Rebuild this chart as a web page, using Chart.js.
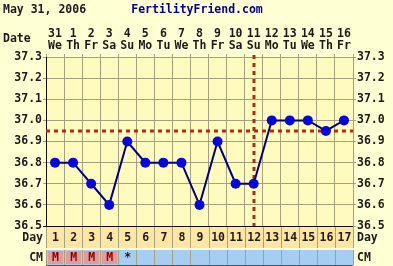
<!DOCTYPE html>
<html>
<head>
<meta charset="utf-8">
<script src="https://cdn.jsdelivr.net/npm/chart.js@4.4.1/dist/chart.umd.min.js"></script>
<style>
html,body{margin:0;padding:0;background:#FFFFD4;}
#wrap{width:393px;height:266px;}
</style>
</head>
<body>
<div id="wrap"><canvas id="c" width="393" height="266"></canvas></div>
<script>
// ---- data ----
const dates = ['31','1','2','3','4','5','6','7','8','9','10','11','12','13','14','15','16'];
const weekdays = ['We','Th','Fr','Sa','Su','Mo','Tu','We','Th','Fr','Sa','Su','Mo','Tu','We','Th','Fr'];
const cycleDays = ['1','2','3','4','5','6','7','8','9','10','11','12','13','14','15','16','17'];
const temps = [36.8,36.8,36.7,36.6,36.9,36.8,36.8,36.8,36.6,36.9,36.7,36.7,37.0,37.0,37.0,36.95,37.0];
const cm = ['M','M','M','M','*','','','','','','','','','','','',''];
const coverline = 36.95;
const ovulationIndex = 11; // cycle day 12
const chartTitleDate = 'May 31, 2006';
const chartTitleSite = 'FertilityFriend.com';

const FONT = 'bold 11.5px "DejaVu Sans Mono", monospace';
const GRID = '#a4a27e';
const TXT = '#1a1a1a';

const extras = {
  id: 'extras',
  beforeDraw(chart) {
    const ctx = chart.ctx, a = chart.chartArea;
    ctx.save();
    ctx.fillStyle = '#FFFFD4';
    ctx.fillRect(0, 0, chart.width, chart.height);
    ctx.fillStyle = '#FFFBBE';
    ctx.fillRect(a.left, a.top, a.right - a.left, a.bottom - a.top);
    ctx.restore();
  },
  beforeDatasetsDraw(chart) {
    const ctx = chart.ctx, a = chart.chartArea, y = chart.scales.y, x = chart.scales.x;
    ctx.save();
    ctx.strokeStyle = '#b02a10';
    ctx.lineWidth = 3;
    ctx.setLineDash([4, 4]);
    const cy = Math.round(y.getPixelForValue(coverline));
    ctx.beginPath(); ctx.moveTo(a.left, cy); ctx.lineTo(a.right, cy); ctx.stroke();
    const vx = Math.round(x.getPixelForValue(ovulationIndex));
    ctx.beginPath(); ctx.moveTo(vx, a.top - 2); ctx.lineTo(vx, a.bottom); ctx.stroke();
    ctx.restore();
  },
  afterDraw(chart) {
    const ctx = chart.ctx, a = chart.chartArea;
    const n = cycleDays.length, w = (a.right - a.left) / n;
    ctx.save();
    ctx.font = FONT;
    ctx.textBaseline = 'middle';
    // title
    ctx.fillStyle = TXT; ctx.textAlign = 'left';
    ctx.fillText(chartTitleDate, 3, 10);
    ctx.fillStyle = '#00008f'; ctx.textAlign = 'center';
    ctx.fillText(chartTitleSite, 197, 10);
    ctx.fillStyle = TXT; ctx.textAlign = 'left';
    ctx.fillText('Date', 3, 39);
    // day row
    const dTop = a.bottom + 1, dBot = a.bottom + 22;
    ctx.fillStyle = '#FFE6A4';
    ctx.fillRect(a.left, dTop, a.right - a.left, dBot - dTop);
    const cTop = a.bottom + 24, cBot = a.bottom + 39;
    ctx.fillStyle = '#A6CDF2';
    ctx.fillRect(a.left, cTop, a.right - a.left, cBot - cTop);
    ctx.strokeStyle = GRID; ctx.lineWidth = 1;
    for (let i = 0; i <= n; i++) {
      const bx = Math.round(a.left + i * w) + 0.5;
      ctx.beginPath(); ctx.moveTo(bx, dTop); ctx.lineTo(bx, dBot); ctx.stroke();
      ctx.beginPath(); ctx.moveTo(bx, cTop); ctx.lineTo(bx, cBot); ctx.stroke();
    }
    ctx.strokeStyle = '#555';
    ctx.beginPath(); ctx.moveTo(a.left, cBot + 0.5); ctx.lineTo(a.right, cBot + 0.5); ctx.stroke();
    ctx.textAlign = 'center';
    for (let i = 0; i < n; i++) {
      const cx = chart.scales.x.getPixelForValue(i);
      ctx.fillStyle = TXT;
      ctx.fillText(cycleDays[i], cx + 0.5, (dTop + dBot) / 2 + 1);
      if (cm[i] === 'M') {
        ctx.fillStyle = '#E09C9C';
        ctx.fillRect(Math.round(a.left + i * w) + 2, cTop + 1, Math.round(w) - 3, cBot - cTop - 2);
        ctx.fillStyle = '#8a0000';
        ctx.fillText('M', cx + 0.5, (cTop + cBot) / 2 + 1);
      } else if (cm[i]) {
        ctx.fillStyle = TXT;
        ctx.fillText(cm[i], cx + 0.5, (cTop + cBot) / 2 + 1);
      }
    }
    ctx.fillStyle = TXT;
    ctx.textAlign = 'right';
    ctx.fillText('Day', a.left - 3, (dTop + dBot) / 2 + 1);
    ctx.fillText('CM', a.left - 3, (cTop + cBot) / 2 + 1);
    ctx.textAlign = 'left';
    ctx.fillText('Day', a.right + 4, (dTop + dBot) / 2 + 1);
    ctx.fillText('CM', a.right + 4, (cTop + cBot) / 2 + 1);
    ctx.restore();
  }
};

const yTicks = {
  font: { family: '"DejaVu Sans Mono", monospace', size: 11.5, weight: 'bold' },
  color: TXT,
  stepSize: 0.1,
  padding: 1,
  callback: v => Number(v).toFixed(1)
};

new Chart(document.getElementById('c'), {
  type: 'line',
  data: {
    labels: dates.map((d, i) => [d, weekdays[i]]),
    datasets: [{
      data: temps,
      borderColor: '#00007c',
      borderWidth: 2,
      backgroundColor: '#0606d8',
      pointBackgroundColor: '#0606d8',
      pointBorderWidth: 0,
      pointRadius: 5,
      tension: 0
    }]
  },
  options: {
    responsive: false,
    devicePixelRatio: 1,
    animation: false,
    layout: { padding: { top: 0, left: 0, right: 0, bottom: 40 } },
    plugins: { legend: { display: false }, tooltip: { enabled: false }, title: { display: false } },
    scales: {
      x: {
        position: 'top',
        offset: true,
        grid: { offset: true, color: GRID, tickLength: 3, lineWidth: 1 },
        border: { color: GRID },
        ticks: {
          font: { family: '"DejaVu Sans Mono", monospace', size: 11.5, weight: 'bold', lineHeight: 1.05 },
          color: TXT, padding: 2, maxRotation: 0, autoSkip: false
        },
        afterFit: s => { s.height = 57; }
      },
      y: {
        position: 'left',
        min: 36.5, max: 37.3,
        grid: { color: c => (Math.abs(c.tick && c.tick.value - 36.5) < 1e-6 ? '#111' : GRID), tickLength: 3 },
        border: { color: '#111' },
        ticks: yTicks,
        afterFit: s => { s.width = 46; }
      },
      y2: {
        position: 'right',
        min: 36.5, max: 37.3,
        grid: { drawOnChartArea: false, color: GRID, tickLength: 3 },
        border: { color: GRID },
        ticks: yTicks,
        afterFit: s => { s.width = 40; }
      }
    }
  },
  plugins: [extras]
});
</script>
</body>
</html>
